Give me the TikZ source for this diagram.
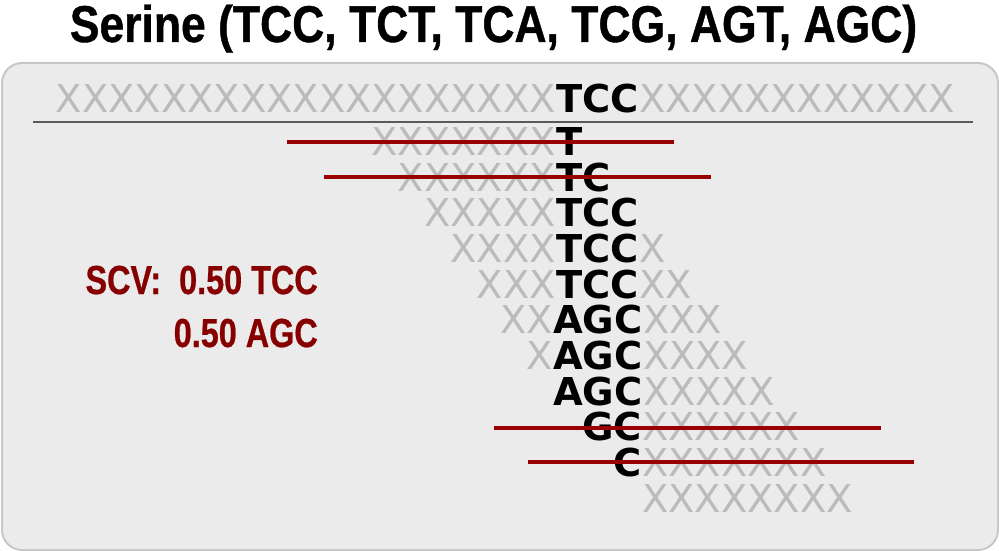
\documentclass[tikz,border=0pt]{standalone}
\usepackage{fontspec}
\usepackage{tikz}
\usetikzlibrary{positioning,calc}
\setmainfont{DejaVu Sans}
\newfontfamily\titlefont[FakeStretch=0.86,FakeBold=0.8]{Liberation Sans}
\newfontfamily\scvfont[FakeStretch=0.80,FakeBold=0.6]{Liberation Sans}
\definecolor{panelbg}{HTML}{EBEBEB}
\definecolor{panelborder}{HTML}{C8C8C8}
\definecolor{fillergray}{HTML}{BBBBBB}
\definecolor{rulegray}{HTML}{5A5A5A}
\definecolor{strikered}{HTML}{990000}
\definecolor{scvred}{HTML}{870000}

\begin{document}
\begin{tikzpicture}[
  x=1pt, y=-1pt,
  panel/.style={
    draw=panelborder,
    fill=panelbg,
    rounded corners=20pt,
    line width=2pt
  },
  filler/.style={
    font=\fontsize{38.4}{40}\selectfont,
    text=fillergray,
    inner sep=0pt
  },
  codon/.style={
    font=\fontsize{38.4}{40}\selectfont\bfseries,
    text=black,
    inner sep=0pt
  },
  scvlabel/.style={
    font=\scvfont\bfseries\fontsize{40.5}{42}\selectfont,
    text=scvred,
    inner sep=0pt,
    anchor=base east
  },
  strike/.style={
    draw=strikered,
    line width=4pt
  }
]
  \useasboundingbox (0,0) rectangle (999,551);

  % --- TITLE ---
  \node[anchor=base, inner sep=0pt, font=\titlefont\bfseries\fontsize{51.7}{54}\selectfont] (title) at (493.5,42)
    {Serine (TCC, TCT, TCA, TCG, AGT, AGC)};

  % --- PANEL ---
  \draw[panel] (2,63) rectangle (998,550);

  % --- REFERENCE ROW ---
  \node[codon, anchor=base west] (ref) at (556,113) {TCC};
  \node[filler, anchor=base east] (refl) at (ref.base west) {XXXXXXXXXXXXXXXXXXX};
  \node[filler, anchor=base west] (refr) at (ref.base east) {XXXXXXXXXXXX};
  \draw[rulegray, line width=1.5pt] (33,122) -- (973,122);

  % --- READS ---
  \node[codon, anchor=base west] (c1) at (556,155.5) {T};
  \node[filler, anchor=base east] (l1) at (c1.base west) {XXXXXXX};

  \node[codon, anchor=base west] (c2) at (556,191.2) {TC};
  \node[filler, anchor=base east] (l2) at (c2.base west) {XXXXXX};

  \node[codon, anchor=base west] (c3) at (556,226.8) {TCC};
  \node[filler, anchor=base east] (l3) at (c3.base west) {XXXXX};

  \node[codon, anchor=base west] (c4) at (556,262.5) {TCC};
  \node[filler, anchor=base east] (l4) at (c4.base west) {XXXX};
  \node[filler, anchor=base west] (r4) at (c4.base east) {X};

  \node[codon, anchor=base west] (c5) at (556,298.1) {TCC};
  \node[filler, anchor=base east] (l5) at (c5.base west) {XXX};
  \node[filler, anchor=base west] (r5) at (c5.base east) {XX};

  \node[codon, anchor=base west] (c6) at (553,333.8) {AGC};
  \node[filler, anchor=base east] (l6) at (c6.base west) {XX};
  \node[filler, anchor=base west] (r6) at (c6.base east) {XXX};

  \node[codon, anchor=base west] (c7) at (553,369.4) {AGC};
  \node[filler, anchor=base east] (l7) at (c7.base west) {X};
  \node[filler, anchor=base west] (r7) at (c7.base east) {XXXX};

  \node[codon, anchor=base west] (c8) at (553,405.1) {AGC};
  \node[filler, anchor=base west] (r8) at (c8.base east) {XXXXX};

  \node[codon, anchor=base east] (c9) at (642,440.7) {GC};
  \node[filler, anchor=base west] (r9) at (c9.base east) {XXXXXX};

  \node[codon, anchor=base east] (c10) at (642,476.4) {C};
  \node[filler, anchor=base west] (r10) at (c10.base east) {XXXXXXX};

  \node[filler, anchor=base west] (r11) at ($(c10.base east)+(0,35.6)$) {XXXXXXXX};

  % --- DISCARDED READS ---
  \draw[strike] ($(c1.base west)+(-269,-14)$) -- ($(c1.base west)+(118,-14)$);
  \draw[strike] ($(c2.base west)+(-232,-14)$) -- ($(c2.base west)+(155,-14)$);
  \draw[strike] ($(c9.base east)+(-148,-13)$) -- ($(c9.base east)+(239,-13)$);
  \draw[strike] ($(c10.base east)+(-114,-14)$) -- ($(c10.base east)+(272,-14)$);

  % --- SCV ---
  \node[scvlabel] (scv1) at (318,294) {SCV:\ \ 0.50 TCC};
  \node[scvlabel] (scv2) at ($(scv1.base east)+(0,53)$) {0.50 AGC};

\end{tikzpicture}
\end{document}
